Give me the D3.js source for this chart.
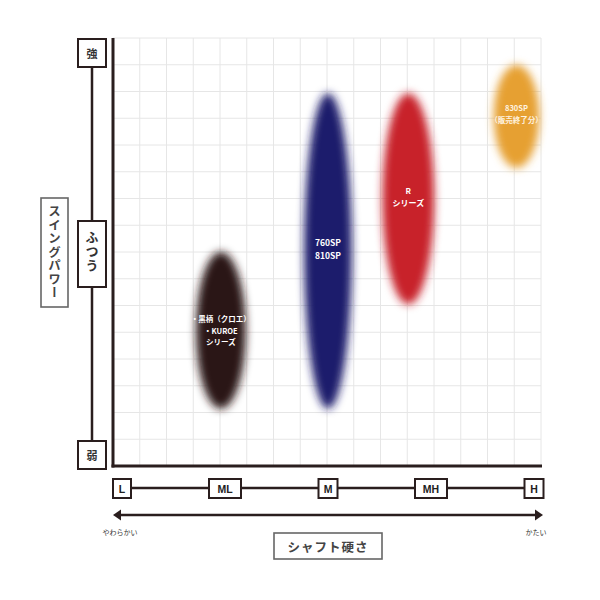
<!DOCTYPE html>
<html><head><meta charset="utf-8">
<script src="https://cdn.jsdelivr.net/npm/d3@7"></script>
<style>
html,body{margin:0;padding:0;background:#fff;}
svg{display:block;font-family:"Noto Sans CJK JP","Noto Sans",sans-serif;}
</style></head>
<body>
<svg id="c" width="600" height="600"></svg>
<script>
// ---- data ----
const stiffLabels = ["L","ML","M","MH","H"];
const powerLabels = ["弱","ふつう","強"];
const products = ["kuroe","760sp","r","830sp"];
const productLines = [["・黒柄（クロエ）","・KUROE","シリーズ"],["760SP","810SP"],["R","シリーズ"],["830SP","（販売終了分）"]];
const stiffMin = [0.68, 1.73, 2.49, 3.57];
const stiffMax = [1.24, 2.27, 3.07, 4.09];
const powerMin = [0.21, 0.21, 0.73, 1.41];
const powerMax = [1.03, 1.82, 1.82, 1.96];
const productColors = ["#2a1916","#1e1a6c","#c8242c","#e6a033"];
const gridCount = 16;

// ---- layout ----
const svg = d3.select("#c");
const dark = "#2a1e1e";
const x = d3.scaleLinear().domain([0,4]).range([122,534]);
const y = d3.scaleLinear().domain([0,2]).range([455,53]);
const gx = d3.scaleLinear().domain([0,gridCount]).range([113,541]);
const gy = d3.scaleLinear().domain([0,gridCount]).range([466,38]);

// grid
const grid = svg.append("g").attr("stroke","#e6e6e6").attr("stroke-width",1);
grid.selectAll("line.v").data(d3.range(1,gridCount+1)).join("line")
  .attr("x1",d=>gx(d)).attr("x2",d=>gx(d)).attr("y1",gy(gridCount)).attr("y2",gy(0));
grid.selectAll("line.h").data(d3.range(0,gridCount+1)).join("line").attr("class","h")
  .attr("y1",d=>gy(d)).attr("y2",d=>gy(d)).attr("x1",gx(0)).attr("x2",gx(gridCount));

// blur filter
const defs = svg.append("defs");
defs.append("filter").attr("id","blur").attr("x","-50%").attr("y","-50%").attr("width","200%").attr("height","200%")
  .append("feGaussianBlur").attr("stdDeviation",4.5);

// ellipses
const idx = d3.range(products.length);
svg.append("g").selectAll("ellipse").data(idx).join("ellipse")
  .attr("cx",i=>(x(stiffMin[i])+x(stiffMax[i]))/2)
  .attr("cy",i=>(y(powerMin[i])+y(powerMax[i]))/2)
  .attr("rx",i=>(x(stiffMax[i])-x(stiffMin[i]))/2-4)
  .attr("ry",i=>(y(powerMin[i])-y(powerMax[i]))/2-4)
  .attr("fill",i=>productColors[i])
  .attr("filter","url(#blur)");

// labels in ellipses
const lineGap = [11.5, 13, 12, 11.5];
const fsz = [7.5, 8.5, 8, 7.5];
const labelDy = [0, -2, -2, -3];
idx.forEach(i=>{
  const cx=(x(stiffMin[i])+x(stiffMax[i]))/2;
  const cy=(y(powerMin[i])+y(powerMax[i]))/2 + labelDy[i];
  const n=productLines[i].length;
  svg.append("g").selectAll("text").data(productLines[i]).join("text")
    .attr("x",cx).attr("y",(d,k)=>cy+(k-(n-1)/2)*lineGap[i])
    .attr("text-anchor","middle").attr("dominant-baseline","central")
    .attr("fill", i===3? "#fff3e0":"#fff").attr("font-size",fsz[i]).attr("font-weight","bold")
    .text(d=>d);
});

// main axes
svg.append("line").attr("x1",113).attr("x2",113).attr("y1",gy(gridCount)).attr("y2",gy(0)+1.5)
  .attr("stroke",dark).attr("stroke-width",3);
svg.append("line").attr("x1",111.5).attr("x2",gx(gridCount)+1).attr("y1",gy(0)).attr("y2",gy(0))
  .attr("stroke",dark).attr("stroke-width",3);

// y power axis
svg.append("line").attr("x1",92).attr("x2",92).attr("y1",y(2)).attr("y2",y(0))
  .attr("stroke",dark).attr("stroke-width",2.5);
const yBoxH = [28, 66, 28];
powerLabels.forEach((lab,i)=>{
  const cy=y(i), h=yBoxH[i];
  svg.append("rect").attr("x",78).attr("y",cy-h/2).attr("width",28).attr("height",h)
    .attr("fill","#fff").attr("stroke",dark).attr("stroke-width",2);
  if(lab.length===1){
    svg.append("text").attr("x",92).attr("y",cy).attr("text-anchor","middle").attr("dominant-baseline","central")
      .attr("font-size",11).attr("font-weight","bold").attr("fill","#333").text(lab);
  } else {
    svg.append("text").attr("x",92).attr("y",cy-h/2+10).attr("style","writing-mode:vertical-rl;")
      .attr("font-size",13).attr("font-weight","bold").attr("fill","#333").attr("letter-spacing",1).text(lab);
  }
});
// スイングパワー title
svg.append("rect").attr("x",41).attr("y",198).attr("width",27).attr("height",109)
  .attr("fill","#fff").attr("stroke","#666").attr("stroke-width",1.6);
svg.append("text").attr("x",54.5).attr("y",205).attr("style","writing-mode:vertical-rl;")
  .attr("font-size",12.5).attr("font-weight","bold").attr("fill","#444").attr("letter-spacing",1)
  .text("スイングパワー");

// x stiffness axis
svg.append("line").attr("x1",x(0)).attr("x2",x(4)).attr("y1",488).attr("y2",488)
  .attr("stroke",dark).attr("stroke-width",2.5);
const xBoxW = [18, 32, 19, 32, 19];
stiffLabels.forEach((lab,i)=>{
  const cx=x(i), w=xBoxW[i];
  svg.append("rect").attr("x",cx-w/2).attr("y",479).attr("width",w).attr("height",19)
    .attr("fill","#fff").attr("stroke",dark).attr("stroke-width",2);
  svg.append("text").attr("x",cx).attr("y",489).attr("text-anchor","middle").attr("dominant-baseline","central")
    .attr("font-family","Liberation Sans, Arial, sans-serif").attr("font-weight","bold").attr("font-size",10.5)
    .attr("fill","#222").text(lab);
});

// arrow
svg.append("line").attr("x1",118).attr("x2",538).attr("y1",515).attr("y2",515).attr("stroke",dark).attr("stroke-width",2.5);
svg.append("path").attr("d","M113,515 L121,509.5 L121,520.5 Z").attr("fill",dark);
svg.append("path").attr("d","M543,515 L535,509.5 L535,520.5 Z").attr("fill",dark);
svg.append("text").attr("x",120).attr("y",532).attr("text-anchor","middle").attr("dominant-baseline","central")
  .attr("font-size",7).attr("fill","#333").text("やわらかい");
svg.append("text").attr("x",536).attr("y",532).attr("text-anchor","middle").attr("dominant-baseline","central")
  .attr("font-size",7).attr("fill","#333").text("かたい");

// シャフト硬さ title
svg.append("rect").attr("x",274).attr("y",533).attr("width",108).attr("height",26)
  .attr("fill","#fff").attr("stroke","#666").attr("stroke-width",1.6);
svg.append("text").attr("x",328).attr("y",546.5).attr("text-anchor","middle").attr("dominant-baseline","central")
  .attr("font-size",12.5).attr("font-weight","bold").attr("fill","#444").attr("letter-spacing",1).text("シャフト硬さ");
</script>
</body></html>
